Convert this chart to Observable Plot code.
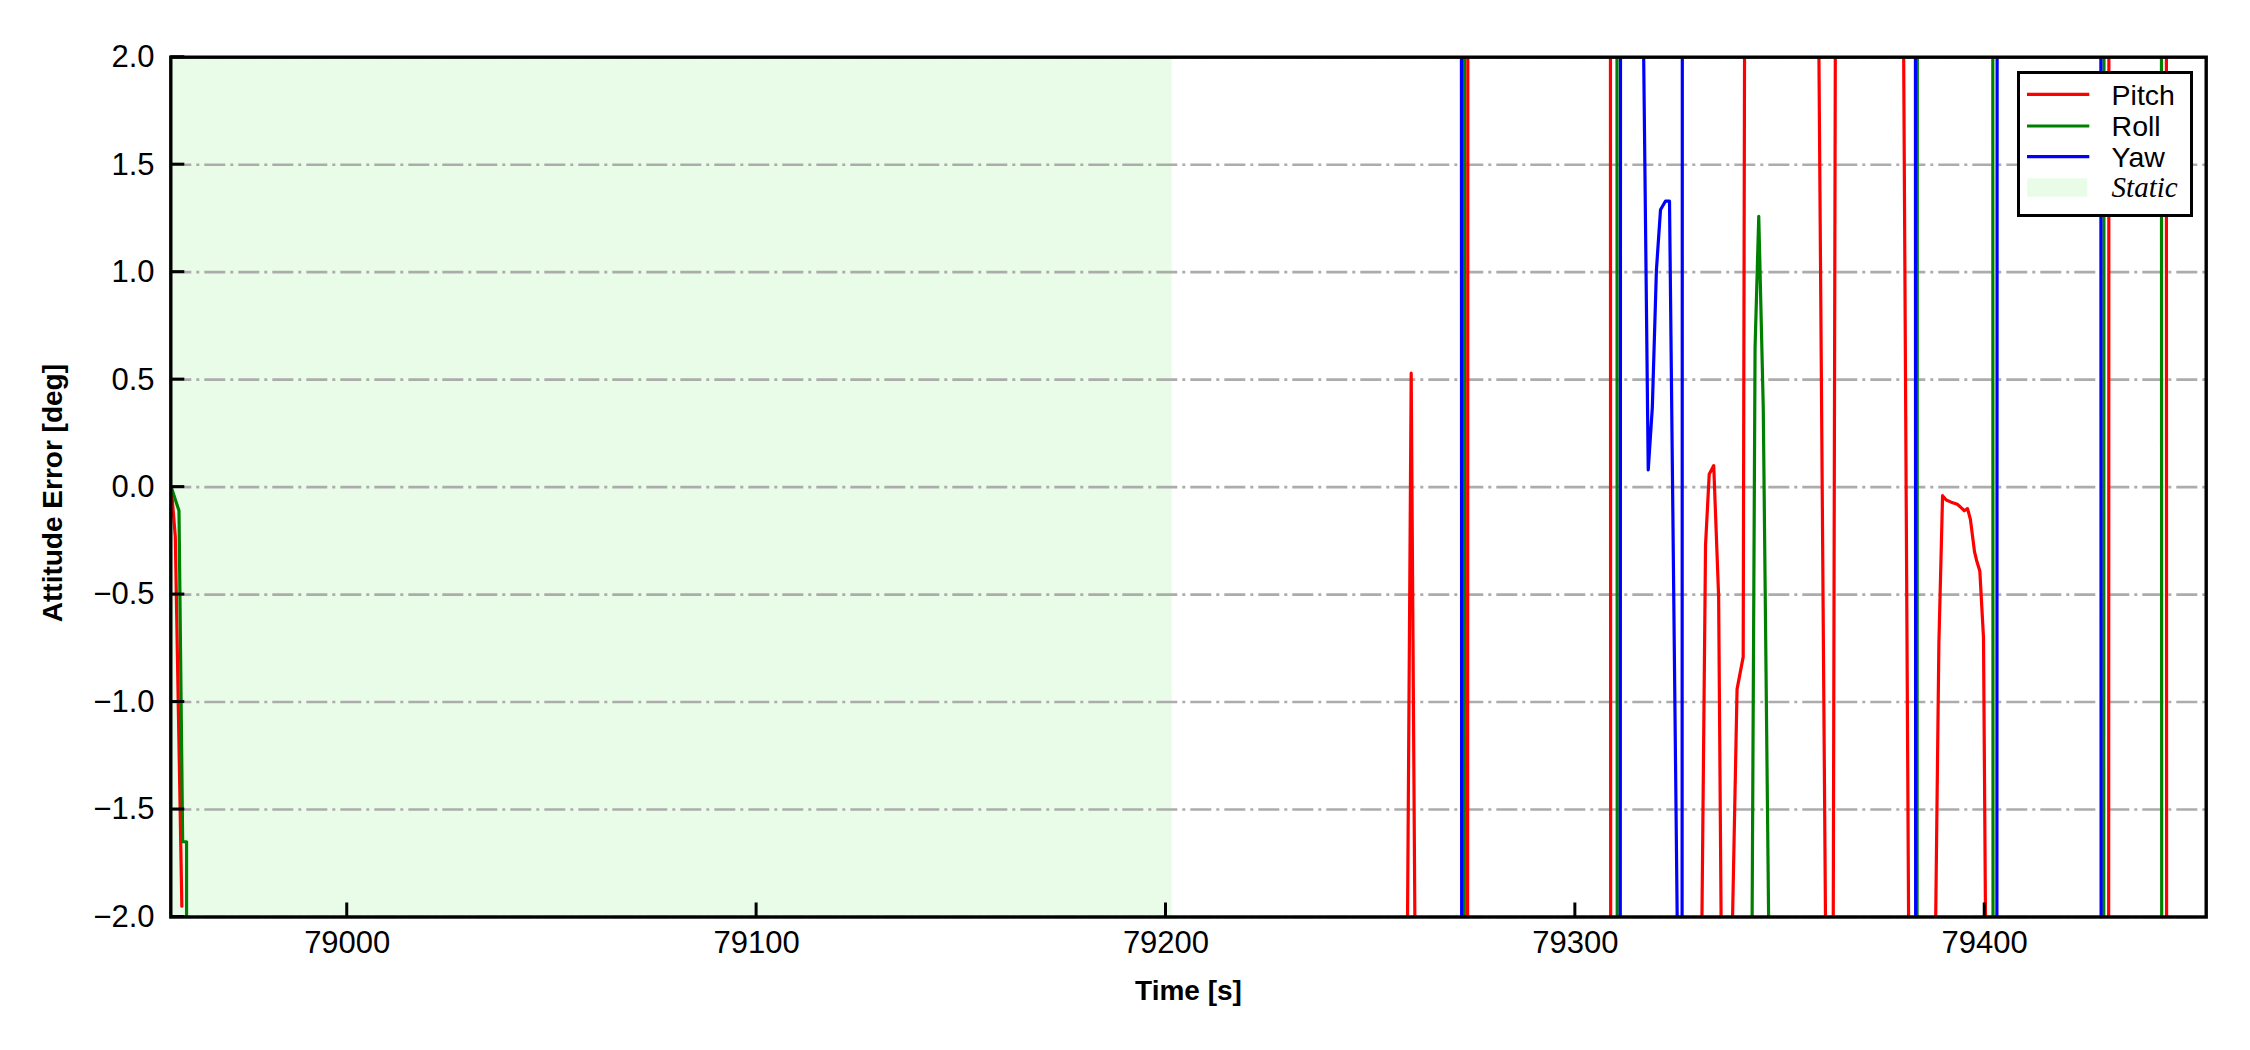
<!DOCTYPE html>
<html>
<head>
<meta charset="utf-8">
<script src="https://cdn.jsdelivr.net/npm/d3@7"></script>
<script src="https://cdn.jsdelivr.net/npm/@observablehq/plot@0.6"></script>
<style>
html, body { margin: 0; padding: 0; background: #fff; }
#wrap { position: relative; width: 2250px; height: 1050px; }
#legend { position: absolute; left: 2016.5px; top: 71px; width: 176px; height: 146px;
  box-sizing: border-box; border: 3.3px solid #000; background: #fff; }
#legend svg { position: absolute; left: -3.3px; top: -3.3px; overflow: visible; }
</style>
</head>
<body>
<div id="wrap"><div id="legend"></div></div>
<script>
// ---- axis ticks and domains ----
const xTicks = [79000, 79100, 79200, 79300, 79400];
const yTicks = [-2.0, -1.5, -1.0, -0.5, 0.0, 0.5, 1.0, 1.5, 2.0];
const xDomain = [78956.9, 79454.1];
const yDomain = [-2, 2];
const staticSpan = [78956.9, 79201.5];

// ---- series (time [s], attitude error [deg]); values beyond ±2 run off the chart ----
const seriesNames = ["Pitch", "Roll", "Yaw"];
const seriesColors = ["#ff0000", "#008000", "#0000ff"];

const pitchT = [78957.0, 78958.0, 78959.6, 78960.5,
  79258.9, 79259.9, 79260.9, 79273.3, 79274.1, 79308.2, 79309.0,
  79330.8, 79331.8, 79332.7, 79333.8, 79335.0, 79335.8,
  79338.3, 79339.5, 79341.0, 79341.5, 79342.5,
  79359.3, 79361.3, 79362.6, 79363.9, 79379.9, 79381.7,
  79387.9, 79388.8, 79389.7, 79390.6, 79391.8, 79393.3, 79394.5, 79395.0, 79395.8,
  79396.5, 79397.5, 79398.0, 79398.8, 79399.7, 79400.3,
  79429.9, 79430.7, 79444.0, 79444.8, 79454.1];
const pitchV = [0.0, -0.23, -1.95, null,
  -2.3, 0.53, -2.3, -30, 30, 30, -30,
  -2.25, -0.27, 0.06, 0.10, -0.51, -2.5,
  -2.1, -0.94, -0.79, 3.5, 30,
  2.5, -2.5, -5.2, 5.2, 3.0, -3.0,
  -2.2, -0.73, -0.04, -0.06, -0.07, -0.08, -0.10, -0.11, -0.10,
  -0.15, -0.30, -0.34, -0.39, -0.70, -2.3,
  -30, 30, 30, -30, -30];

const rollT = [78957.0, 78958.9, 78959.8, 78960.75, 78960.85,
  79272.5, 79273.3, 79309.8, 79310.6,
  79343.1, 79343.9, 79344.8, 79345.9, 79347.4,
  79383.1, 79383.9, 79401.6, 79402.4, 79428.7, 79429.5, 79442.8, 79443.6, 79454.1];
const rollV = [0.0, -0.11, -1.65, -1.65, -30,
  -30, 30, 30, -30,
  -2.3, 0.65, 1.26, 0.37, -2.35,
  -30, 30, 30, -30, -30, 30, 30, -30, -30];

const yawT = [78957.0, 79271.8, 79272.6, 79310.6, 79311.4,
  79316.4, 79317.8, 79318.8, 79319.8, 79320.8, 79322.0, 79323.0, 79325.1,
  79325.7, 79326.5, 79382.7, 79383.5, 79402.6, 79403.4, 79428.0, 79428.8, 79454.1];
const yawV = [30, 30, -30, -30, 30,
  2.5, 0.08, 0.37, 1.01, 1.29, 1.33, 1.33, -2.4,
  -30, 30, 30, -30, -30, 30, 30, -30, -30];

const rows = (T, V) => T.map((t, i) => ({t, v: V[i]}));
const series = [rows(pitchT, pitchV), rows(rollT, rollV), rows(yawT, yawV)];

const W = 2250, H = 1050, mL = 170.3, mR = 44.3, mT = 56.7, mB = 133.5;
const tickLen = 14;

const chart = Plot.plot({
  width: W,
  height: H,
  marginLeft: mL,
  marginRight: mR,
  marginTop: mT,
  marginBottom: mB,
  style: {fontFamily: "'Liberation Sans', Arial, sans-serif", fontSize: "31px", background: "#fff", overflow: "visible"},
  x: {type: "linear", domain: xDomain},
  y: {type: "linear", domain: yDomain},
  marks: [
    Plot.rect([staticSpan], {x1: d => d[0], x2: d => d[1], fill: "#e8fce8"}),
    Plot.gridY(yTicks, {stroke: "#acacac", strokeOpacity: 1, strokeWidth: 2.6, strokeDasharray: "21,5,3,5"}),
    ...series.map((s, i) => Plot.line(s, {x: "t", y: "v", stroke: seriesColors[i], strokeWidth: 3.2, clip: true})),
    Plot.frame({stroke: "#000", strokeWidth: 3.4}),
    Plot.axisX(xTicks, {tickSize: 0, tickPadding: 13.5, tickFormat: d => String(d), label: null, fill: "#000"}),
    Plot.axisY(yTicks, {tickSize: 0, tickPadding: 16.3, tickFormat: d3.format(".1f"), label: null, fill: "#000"}),
    Plot.text(["Time [s]"], {text: d => d, frameAnchor: "bottom", dy: 82.5, lineAnchor: "bottom", textAnchor: "middle", fontWeight: "bold", fontSize: 28, fill: "#000"}),
    Plot.text(["Attitude Error [deg]"], {text: d => d, frameAnchor: "left", dx: -117.3, dy: 6, rotate: -90, textAnchor: "middle", lineAnchor: "middle", fontWeight: "bold", fontSize: 28, fill: "#000"})
  ]
});
document.getElementById("wrap").prepend(chart);

// ---- inward tick marks, placed with the chart's own scales ----
const xs = chart.scale("x"), ys = chart.scale("y");
const tg = d3.select(chart).append("g").attr("stroke", "#000").attr("stroke-width", 3);
xTicks.forEach(t => {
  const x = xs.apply(t);
  tg.append("line").attr("x1", x).attr("x2", x).attr("y1", H - mB).attr("y2", H - mB - tickLen);
});
yTicks.forEach(v => {
  const y = ys.apply(v);
  tg.append("line").attr("x1", mL).attr("x2", mL + tickLen).attr("y1", y).attr("y2", y);
});

// ---- legend ----
const lg = d3.select("#legend").append("svg").attr("width", 176).attr("height", 146);
const rowY = [23.3, 55, 85.7];
seriesNames.forEach((name, i) => {
  lg.append("line").attr("x1", 11).attr("x2", 73.3).attr("y1", rowY[i]).attr("y2", rowY[i])
    .attr("stroke", seriesColors[i]).attr("stroke-width", 3.2);
  lg.append("text").attr("x", 95.6).attr("y", rowY[i] + 10.2).text(name)
    .attr("font-family", "'Liberation Sans', Arial, sans-serif").attr("font-size", 28.5).attr("fill", "#000");
});
lg.append("rect").attr("x", 11.3).attr("y", 107.3).attr("width", 60).attr("height", 18.4).attr("fill", "#e8fce8");
lg.append("text").attr("x", 95.6).attr("y", 125.7).text("Static")
  .attr("font-family", "'Liberation Serif', 'Times New Roman', serif").attr("font-style", "italic")
  .attr("font-size", 29).attr("fill", "#000");
</script>
</body>
</html>
